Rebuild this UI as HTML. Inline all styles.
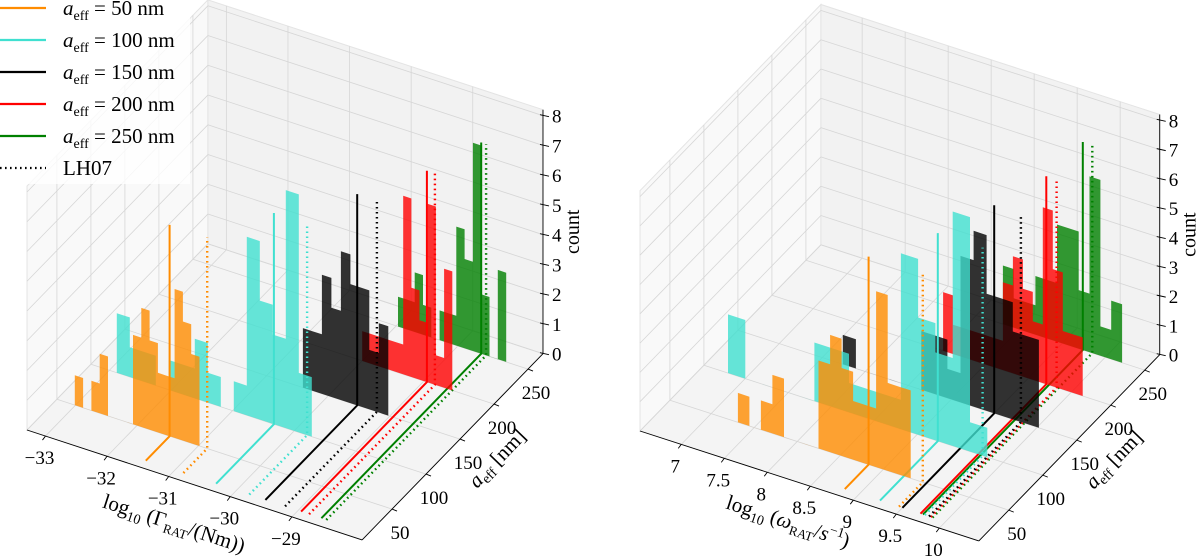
<!DOCTYPE html>
<html><head><meta charset="utf-8"><style>
html,body{margin:0;padding:0;background:#fff;}
svg{display:block;font-family:"Liberation Serif",serif;}
</style></head><body>
<svg id="chart" width="1200" height="559" viewBox="0 0 1200 559" xmlns="http://www.w3.org/2000/svg">
<g id="left-panel"></g>
<g id="right-panel"></g>
<g id="legend"></g>
</svg>
<script>
// ---- data ----
const aeffValues = [50, 100, 150, 200, 250];
const seriesNames = ["a50", "a100", "a150", "a200", "a250"];
const gammaBinStart = [-33.01, -32.88, -30.41, -30.00, -29.97];
const gammaBinWidth = [0.135, 0.211, 0.154, 0.133, 0.135];
const gammaCounts0 = [1,0,1,2,0,0,0,3,4,3,2,2,5,4,3];
const gammaCounts1 = [2,1,1,0,1,1,2,1,0,1,6,4,3,8,2];
const gammaCounts2 = [2,2,4,3,5,4,4,2,3];
const gammaCounts3 = [1,1,1,1,1,6,3,2,6,1,4];
const gammaCounts4 = [1,1,2,1,0,1,1,4,3,7,2,0,3];
const gammaMean = [-31.47, -30.33, -29.53, -28.95, -28.62];
const gammaLH07 = [-30.86, -29.79, -29.21, -28.82, -28.54];
const omegaBinStart = [7.31, 6.80, 7.74, 8.51, 8.81];
const omegaBinWidth = [0.134, 0.201, 0.152, 0.116, 0.126];
const omegaCounts0 = [1,0,1,2,0,0,0,3,4,3,2,2,6,3,3];
const omegaCounts1 = [2,0,0,0,0,2,2,1,1,1,6,4,3,8,1];
const omegaCounts2 = [1,0,0,0,0,0,2,2,1,5,6,4,4,3,3];
const omegaCounts3 = [2,1,1,1,1,1,3,4,3,2,6,4,2,2];
const omegaCounts4 = [2,1,1,2,2,4,4,2,6,1,2];
const omegaMean = [8.83, 9.24, 9.50, 9.71, 9.74];
const omegaLH07 = [9.46, 9.76, 9.81, 9.83, 9.85];
const lineHeight = 7.1;
const lineFloorStart = 15;
const gammaTicks = [-33, -32, -31, -30, -29];
const gammaTickLabels = ["\u221233", "\u221232", "\u221231", "\u221230", "\u221229"];
const omegaTicks = [7, 7.5, 8, 8.5, 9, 9.5, 10];
const omegaTickLabels = ["7", "7.5", "8", "8.5", "9", "9.5", "10"];
const aeffTicks = [50, 100, 150, 200, 250];
const countTicks = [0, 1, 2, 3, 4, 5, 6, 7, 8];

// ---- styles ----
const lineColors = ["#ff8c00", "#40e0d0", "#000000", "#ff0000", "#008000"];
const NS = "http://www.w3.org/2000/svg";
function mk(tag, attrs, parent) {
  const e = document.createElementNS(NS, tag);
  for (const k in attrs) e.setAttribute(k, attrs[k]);
  parent.appendChild(e);
  return e;
}
function P(p, x, a, z) {
  return [p.ox + p.ex[0] * (x - p.xmin) + p.ea[0] * (a - p.amin),
          p.oy + p.ex[1] * (x - p.xmin) + p.ea[1] * (a - p.amin) + p.ez * z];
}
function pts(arr) { return arr.map(q => q[0].toFixed(1) + "," + q[1].toFixed(1)).join(" "); }

function drawPanel(g, p, binStart, binWidth, counts, means, lh07, xTicks, xTickLabels, titleFn) {
  // panes
  const floor = mk("polygon", {points: pts([P(p,p.xmin,p.amin,0),P(p,p.xmax,p.amin,0),P(p,p.xmax,p.amax,0),P(p,p.xmin,p.amax,0)]), fill:"#f4f4f4", stroke:"#e4e4e4"}, g);
  
  
  const lw = mk("polygon", {points: pts([P(p,p.xmin,p.amin,0),P(p,p.xmin,p.amax,0),P(p,p.xmin,p.amax,p.zt),P(p,p.xmin,p.amin,p.zt)]), fill:"#f9f9f9", stroke:"#e4e4e4"}, g);
  
  
  const bw = mk("polygon", {points: pts([P(p,p.xmin,p.amax,0),P(p,p.xmax,p.amax,0),P(p,p.xmax,p.amax,p.zt),P(p,p.xmin,p.amax,p.zt)]), fill:"#f2f2f2", stroke:"#e4e4e4"}, g);
  
  
  // grid
  const grid = mk("g", {stroke:"#d6d6d6", "stroke-width":"0.8", fill:"none"}, g);
  
  
  const gl = (q1, q2) => mk("line", {x1:q1[0], y1:q1[1], x2:q2[0], y2:q2[1]}, grid);
  xTicks.forEach(t => { gl(P(p,t,p.amin,0), P(p,t,p.amax,0)); gl(P(p,t,p.amax,0), P(p,t,p.amax,p.zt)); });
  aeffTicks.forEach(t => { gl(P(p,p.xmin,t,0), P(p,p.xmax,t,0)); gl(P(p,p.xmin,t,0), P(p,p.xmin,t,p.zt)); });
  countTicks.forEach(t => { gl(P(p,p.xmin,p.amin,t), P(p,p.xmin,p.amax,t)); gl(P(p,p.xmin,p.amax,t), P(p,p.xmax,p.amax,t)); });
  // axes lines
  const ax = mk("g", {stroke:"#000", "stroke-width":"0.9", fill:"none"}, g);
  
  
  const al = (q1, q2) => mk("line", {x1:q1[0], y1:q1[1], x2:q2[0], y2:q2[1]}, ax);
  al(P(p,p.xmin,p.amin,0), P(p,p.xmax,p.amin,0));
  al(P(p,p.xmax,p.amin,0), P(p,p.xmax,p.amax,0));
  al(P(p,p.xmax,p.amax,0), P(p,p.xmax,p.amax,p.zt));
  // ticks & labels
  const tl = mk("g", {"font-size":"19", fill:"#000"}, g);
  
  
  xTicks.forEach((t, i) => {
    const q = P(p, t, p.amin, 0);
    al(q, [q[0]-3, q[1]+4]);
    const tx = mk("text", {x:q[0]-6, y:q[1]+28, "text-anchor":"middle"}, tl);
    
    
    tx.textContent = xTickLabels[i];
  });
  aeffTicks.forEach(t => {
    const q = P(p, p.xmax, t, 0);
    al(q, [q[0]+5, q[1]+2]);
    const tx = mk("text", {x:q[0]+8, y:q[1]+30, "text-anchor":"middle"}, tl);
    
    
    tx.textContent = String(t);
  });
  countTicks.forEach(t => {
    const q = P(p, p.xmax, p.amax, t);
    al([q[0]-3, q[1]-1], [q[0]+6, q[1]+1]);
    const tx = mk("text", {x:q[0]+9, y:q[1]+7, "text-anchor":"start"}, tl);
    
    
    tx.textContent = String(t);
  });
  // z title
  const zq = P(p, p.xmax, p.amax, 4.1);
  const zt = mk("text", {x:zq[0]+36, y:zq[1], "font-size":"20", "text-anchor":"middle", transform:"rotate(-90 "+(zq[0]+36)+" "+zq[1]+")"}, g);
  
  
  zt.textContent = "count";
  // aeff title
  const aq = P(p, p.xmax, 150, 0);
  const atx = aq[0]+42, aty = aq[1]+24;
  const at = mk("text", {x:atx, y:aty, "font-size":"21", "text-anchor":"middle", transform:"rotate(-46 "+atx+" "+aty+")"}, g);
  
  
  at.innerHTML = '<tspan font-style="italic">a</tspan><tspan font-size="14" dy="4">eff</tspan><tspan dy="-4"> [nm]</tspan>';
  // x title
  titleFn(g);
  // histograms back to front
  for (let i = aeffValues.length - 1; i >= 0; i--) {
    const a = aeffValues[i];
    const c = counts[i];
    const poly = [P(p, binStart[i], a, 0)];
    for (let k = 0; k < c.length; k++) {
      const x0 = binStart[i] + k * binWidth[i], x1 = x0 + binWidth[i];
      poly.push(P(p, x0, a, c[k]));
      poly.push(P(p, x1, a, c[k]));
    }
    poly.push(P(p, binStart[i] + c.length * binWidth[i], a, 0));
    const h = mk("polygon", {points: pts(poly), fill: lineColors[i], "fill-opacity":"0.8", stroke:"none"}, g);
    
    
    const m = mk("polyline", {points: pts([P(p,means[i],lineFloorStart,0),P(p,means[i],a,0),P(p,means[i],a,lineHeight)]), fill:"none", stroke:lineColors[i], "stroke-width":"2"}, g);
    
    
    const d = mk("polyline", {points: pts([P(p,lh07[i],lineFloorStart,0),P(p,lh07[i],a,0),P(p,lh07[i],a,lineHeight)]), fill:"none", stroke:lineColors[i], "stroke-width":"2.4", "stroke-dasharray":"1.6 3.4"}, g);
    
    
  }
}

const PL = {ox:27, oy:430, xmin:-33.3, xmax:-27.86, ex:[61.6,20.2], ea:[0.68,-0.70], amin:6, amax:272, ez:-29.75, zt:8.2};
const PR = {ox:640, oy:431, xmin:6.52, xmax:10.46, ex:[86,27.9], ea:[0.68,-0.70], amin:6, amax:272, ez:-29.3, zt:8.2};

drawPanel(document.getElementById("left-panel"), PL, gammaBinStart, gammaBinWidth,
  [gammaCounts0, gammaCounts1, gammaCounts2, gammaCounts3, gammaCounts4], gammaMean, gammaLH07,
  gammaTicks, gammaTickLabels, g => {
    const t = mk("text", {x:172, y:530, "font-size":"21", "text-anchor":"middle", transform:"rotate(18 172 530)"}, g);
    
    
    t.innerHTML = 'log<tspan font-size="14" dy="5">10</tspan><tspan dy="-5"> (\u0393</tspan><tspan font-size="13" dy="5">RAT</tspan><tspan dy="-5">/(Nm))</tspan>';
  });
drawPanel(document.getElementById("right-panel"), PR, omegaBinStart, omegaBinWidth,
  [omegaCounts0, omegaCounts1, omegaCounts2, omegaCounts3, omegaCounts4], omegaMean, omegaLH07,
  omegaTicks, omegaTickLabels, g => {
    const t = mk("text", {x:786, y:528, "font-size":"21", "text-anchor":"middle", transform:"rotate(18 786 528)"}, g);
    
    
    t.innerHTML = 'log<tspan font-size="14" dy="5">10</tspan><tspan dy="-5"> (</tspan><tspan font-style="italic">\u03c9</tspan><tspan font-size="13" dy="5">RAT</tspan><tspan dy="-5">/</tspan><tspan font-style="italic">s</tspan><tspan font-size="14" dy="-8">\u22121</tspan><tspan dy="8">)</tspan>';
  });

// legend
const lg = document.getElementById("legend");
const legendLabels = ["50", "100", "150", "200", "250"];
const legendY = [8, 40, 72, 104, 136, 168];
mk("rect", {x:0, y:0, width:190, height:184, fill:"#fff", "fill-opacity":"0.8"}, lg);
for (let i = 0; i < 6; i++) {
  const y = legendY[i];
  const ln = mk("line", {x1:0, y1:y, x2:46, y2:y, stroke: i < 5 ? lineColors[i] : "#000", "stroke-width":"2.2"}, lg);
  if (i === 5) ln.setAttribute("stroke-dasharray", "1.6 3.4");
  
  
  const t = mk("text", {x:63, y:y+7, "font-size":"21"}, lg);
  
  
  if (i < 5) t.innerHTML = '<tspan font-style="italic">a</tspan><tspan font-size="14" dy="5">eff</tspan><tspan dy="-5"> = ' + legendLabels[i] + ' nm</tspan>';
  else t.textContent = "LH07";
}
</script>
</body></html>
